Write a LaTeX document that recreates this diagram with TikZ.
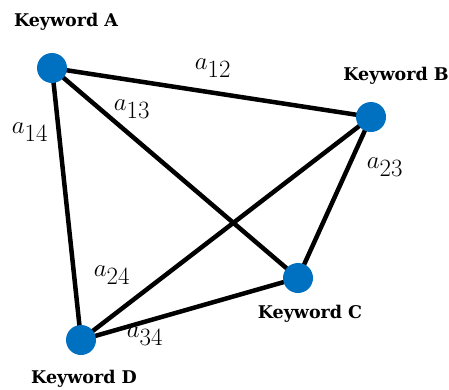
\documentclass[tikz,border=0pt]{standalone}
\usepackage{fontspec}
\setmainfont{DejaVu Serif}
\begin{document}
\begin{tikzpicture}[x=1pt,y=-1pt,
  vertex/.style={circle,fill=kwblue,minimum size=30pt,inner sep=0pt},
  link/.style={line width=4.5pt,black},
  kwlabel/.style={font=\bfseries\fontsize{17.5}{17.5}\selectfont,inner sep=0pt},
  weight/.style={font=\fontsize{34}{34}\selectfont,inner sep=0pt}]
\definecolor{kwblue}{HTML}{0070C0}
\useasboundingbox (0,0) rectangle (449,389);
% keyword positions
\coordinate (pA) at (52,68);
\coordinate (pB) at (371,117);
\coordinate (pC) at (298,278);
\coordinate (pD) at (81,340);
% connections between all keywords
\draw[link] (pA) -- (pB);
\draw[link] (pA) -- (pC);
\draw[link] (pA) -- (pD);
\draw[link] (pB) -- (pC);
\draw[link] (pB) -- (pD);
\draw[link] (pC) -- (pD);
% keyword dots
\node[vertex] (A) at (pA) {};
\node[vertex] (B) at (pB) {};
\node[vertex] (C) at (pC) {};
\node[vertex] (D) at (pD) {};
% keyword names
\node[kwlabel] (lA) at (66,22) {Keyword A};
\node[kwlabel] (lB) at (396,76) {Keyword B};
\node[kwlabel] (lC) at (310,314) {Keyword C};
\node[kwlabel] (lD) at (84,379) {Keyword D};
% edge weights
\node[weight] (w12) at (213,68) {$a_{12}$};
\node[weight] (w13) at (132,109) {$a_{13}$};
\node[weight] (w14) at (30,132) {$a_{14}$};
\node[weight] (w23) at (385,167) {$a_{23}$};
\node[weight] (w24) at (112,275) {$a_{24}$};
\node[weight] (w34) at (145,336) {$a_{34}$};
\end{tikzpicture}
\end{document}
